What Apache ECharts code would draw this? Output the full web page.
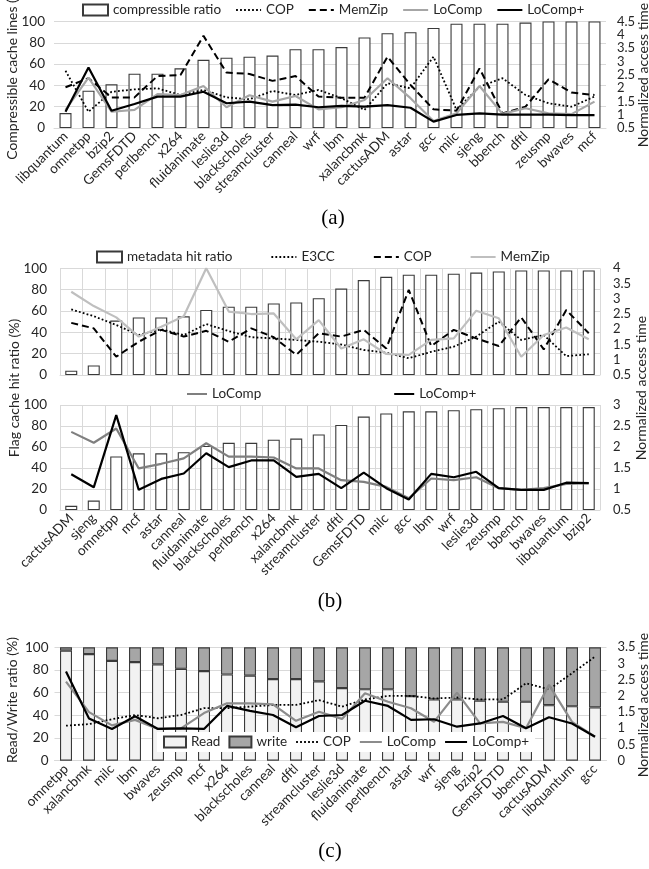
<!DOCTYPE html>
<html>
<head>
<meta charset="utf-8">
<script src="https://cdn.jsdelivr.net/npm/echarts@6/dist/echarts.min.js"></script>
<style>
html, body { margin: 0; padding: 0; background: #fff; }
#main { width: 649px; height: 869px; }
</style>
</head>
<body>
<div id="main"></div>
<script>
// (a) compressible cache lines
const catsA = ['libquantum','omnetpp','bzip2','GemsFDTD','perlbench','x264','fluidanimate','leslie3d','blackscholes','streamcluster','canneal','wrf','lbm','xalancbmk','cactusADM','astar','gcc','milc','sjeng','bbench','dftl','zeusmp','bwaves','mcf'];
const ratioA = [14,35,41,51,51,56,64,66,67,68,74,74,76,85,89,90,94,98,98,98,99,100,100,100];
const copA = [2.65,1.11,1.86,1.95,1.99,1.74,1.93,1.65,1.58,1.89,1.74,1.93,1.62,1.18,2.18,1.99,3.18,1.18,2.05,2.37,1.74,1.43,1.3,1.68];
const memzipA = [2.03,2.37,1.65,1.65,2.45,2.49,3.96,2.58,2.53,2.27,2.45,1.68,1.64,1.64,3.18,2.12,1.2,1.15,2.74,1.05,1.3,2.33,1.83,1.74];
const locompA = [1.18,2.39,1.11,1.18,1.77,1.74,2.08,1.28,1.73,1.49,1.7,1.2,1.28,1.55,2.37,1.62,0.76,1.05,2.08,1.03,1.24,1.05,1.02,1.49];
const locompPA = [1.11,2.77,1.15,1.4,1.68,1.68,1.86,1.43,1.49,1.36,1.38,1.28,1.33,1.3,1.36,1.26,0.74,0.99,1.05,1.0,1.0,1.0,0.98,0.98];

// (b) flag cache hit ratio
const catsB = ['cactusADM','sjeng','omnetpp','mcf','astar','canneal','fluidanimate','blackscholes','perlbench','x264','xalancbmk','streamcluster','dftl','GemsFDTD','milc','gcc','lbm','wrf','leslie3d','zeusmp','bbench','bwaves','libquantum','bzip2'];
const hitB = [4,9,51,54,54,55,61,64,64,67,68,72,81,89,92,94,94,95,96,97,98,98,98,98];
const e3ccB = [2.65,2.43,2.14,1.81,2.0,1.81,2.17,1.94,1.74,1.7,1.65,1.59,1.5,1.32,1.23,1.05,1.26,1.43,1.76,2.25,1.65,1.81,1.12,1.18];
const copB = [2.21,2.03,1.1,1.59,1.98,1.76,1.95,1.59,2.03,1.74,1.16,1.87,1.76,1.98,1.37,3.29,1.45,1.98,1.7,1.45,2.39,1.34,2.63,1.87];
const memzipB = [3.23,2.76,2.39,1.76,2.08,2.43,4.0,2.58,2.5,2.52,1.67,2.3,1.37,1.67,1.19,1.16,1.65,1.7,2.61,2.36,1.1,1.81,2.06,1.67];
const locompB = [2.36,2.1,2.44,1.49,1.6,1.73,2.09,1.77,1.77,1.75,1.49,1.49,1.21,1.17,1.05,0.78,1.25,1.21,1.28,1.02,0.98,1.02,1.12,1.14];
const locompPB = [1.35,1.04,2.76,0.98,1.24,1.37,1.85,1.52,1.68,1.68,1.29,1.36,1.02,1.39,1.02,0.75,1.36,1.28,1.41,1.02,0.98,0.98,1.15,1.14];

// (c) read / write ratio
const catsC = ['omnetpp','xalancbmk','milc','lbm','bwaves','zeusmp','mcf','x264','blackscholes','canneal','dftl','streamcluster','leslie3d','fluidanimate','perlbench','astar','wrf','sjeng','bzip2','GemsFDTD','bbench','cactusADM','libquantum','gcc'];
const readC = [97,94,88,87,85,81,79,76,75,72,72,70,64,63,63,57,54,54,53,52,52,49,48,47];
const writeC = [3,6,12,13,15,19,21,24,25,28,28,30,36,37,37,43,46,46,47,48,48,51,52,53];
const copC = [1.08,1.13,1.28,1.41,1.31,1.41,1.62,1.62,1.67,1.72,1.72,1.87,1.67,1.89,2.0,2.0,1.92,1.95,1.89,1.89,2.39,2.2,2.7,3.21];
const locompC = [2.44,1.5,1.09,1.26,0.98,1.0,1.47,1.77,1.77,1.74,1.23,1.51,1.29,2.08,1.82,1.62,1.2,2.1,1.15,1.2,1.0,2.34,1.2,0.74];
const locompPC = [2.75,1.3,0.98,1.37,0.98,1.0,0.98,1.69,1.54,1.41,1.03,1.38,1.41,1.85,1.69,1.26,1.28,1.05,1.15,1.38,1.0,1.34,1.15,0.74];

const FONT = 'Lato';
const TXT = '#262626';
const GRIDC = '#d9d9d9';
const DOT = [1.8, 2.2];
const DASH = [7, 4];
const FS = 13.5;

function catAxis(grid, data, showLabel, vSplit) {
  return {
    type: 'category', gridIndex: grid, data: data,
    axisTick: { show: false },
    axisLine: { lineStyle: { color: GRIDC } },
    axisLabel: { show: showLabel, rotate: 45, interval: 0, fontSize: FS, color: TXT, fontFamily: FONT, margin: 6 },
    splitLine: { show: vSplit, lineStyle: { color: GRIDC } }
  };
}

function valAxis(grid, min, max, interval, right, split, margin) {
  return {
    type: 'value', gridIndex: grid, position: right ? 'right' : 'left',
    min: min, max: max, interval: interval,
    axisLine: { show: false }, axisTick: { show: false },
    splitLine: { show: split, lineStyle: { color: GRIDC } },
    axisLabel: {
      fontSize: right ? 13 : FS, color: TXT, fontFamily: FONT, margin: margin,
      showMinLabel: true, showMaxLabel: true, hideOverlap: false
    }
  };
}

function line(name, x, y, data, color, width, type) {
  return {
    name: name, type: 'line', xAxisIndex: x, yAxisIndex: y, data: data,
    symbol: 'none', z: 3,
    lineStyle: { color: color, width: width, type: type },
    itemStyle: { color: color }
  };
}

function bar(name, x, y, data, fill, stack) {
  return {
    name: name, type: 'bar', xAxisIndex: x, yAxisIndex: y, data: data,
    barWidth: 12, stack: stack,
    itemStyle: { color: fill, borderColor: '#3a3a3a', borderWidth: 1.1 }
  };
}

// legend entry for a line: hide the symbol, keep the line
const lg = name => ({ name: name, itemStyle: { opacity: 0 } });
const box = name => ({ name: name, icon: 'rect' });
const legendText = { fontSize: 13.5, color: TXT, fontFamily: FONT };
const stripName = n => n.split('#')[0];

function vText(x, y, text) {
  return {
    type: 'text', x: x, y: y, rotation: Math.PI / 2,
    style: { text: text, fontSize: 14, fontFamily: FONT, fill: TXT, textAlign: 'center', textVerticalAlign: 'middle' }
  };
}
function capText(x, y, text) {
  return {
    type: 'text', x: x, y: y,
    style: { text: text, fontSize: 21, fontFamily: 'Liberation Serif', fill: '#000', textAlign: 'center', textVerticalAlign: 'middle' }
  };
}

const chart = echarts.init(document.getElementById('main'));
chart.setOption({
  animation: false,
  backgroundColor: '#fff',
  grid: [
    { left: 54, top: 21.5, width: 552, height: 106.5 },
    { left: 60, top: 268.3, width: 540, height: 106.7 },
    { left: 60, top: 405, width: 540, height: 105 },
    { left: 54.5, top: 647.3, width: 552, height: 113.4 }
  ],
  xAxis: [
    catAxis(0, catsA, true, false),
    catAxis(1, catsB, false, true),
    catAxis(2, catsB, true, true),
    catAxis(3, catsC, true, false)
  ],
  yAxis: [
    valAxis(0, 0, 100, 20, false, true, 9),
    valAxis(0, 0.5, 4.5, 0.5, true, false, 11),
    valAxis(1, 0, 100, 20, false, true, 13),
    valAxis(1, 0.5, 4, 0.5, true, false, 13),
    valAxis(2, 0, 100, 20, false, true, 13),
    valAxis(2, 0.5, 3, 0.5, true, false, 13),
    valAxis(3, 0, 100, 20, false, true, 6),
    valAxis(3, 0, 3.5, 0.5, true, false, 11)
  ],
  legend: [
    {
      left: 82, top: 3, padding: 0, itemGap: 14, itemWidth: 25, itemHeight: 11,
      textStyle: legendText, formatter: stripName,
      data: [box('compressible ratio'), lg('COP#a'), lg('MemZip#a'), lg('LoComp#a'), lg('LoComp+#a')]
    },
    {
      left: 96, top: 250, padding: 0, itemGap: 38, itemWidth: 25, itemHeight: 11,
      textStyle: legendText, formatter: stripName,
      data: [box('metadata hit ratio'), lg('E3CC#b'), lg('COP#b'), lg('MemZip#b')]
    },
    {
      left: 186, top: 387, padding: 0, itemGap: 132, itemWidth: 20, itemHeight: 11,
      textStyle: legendText, formatter: stripName,
      data: [lg('LoComp#b'), lg('LoComp+#b')]
    },
    {
      left: 157, top: 732, padding: [3, 6], itemGap: 8, itemWidth: 22, itemHeight: 11,
      backgroundColor: '#fff',
      textStyle: legendText, formatter: stripName,
      data: [box('Read'), box('write'), lg('COP#c'), lg('LoComp#c'), lg('LoComp+#c')]
    }
  ],
  graphic: [
    vText(12, 72, 'Compressible cache lines (%)'),
    vText(643, 75, 'Normalized access time'),
    vText(14, 388, 'Flag cache hit ratio (%)'),
    vText(641, 388, 'Normalized access time'),
    vText(12, 700, 'Read/Write ratio (%)'),
    vText(643, 705, 'Normalized access time'),
    capText(333, 218, '(a)'),
    capText(330, 601, '(b)'),
    capText(330, 851, '(c)')
  ],
  series: [
    bar('compressible ratio', 0, 0, ratioA, '#fff'),
    line('COP#a', 0, 1, copA, '#000', 1.8, DOT),
    line('MemZip#a', 0, 1, memzipA, '#000', 2, DASH),
    line('LoComp#a', 0, 1, locompA, '#a6a6a6', 2.2, 'solid'),
    line('LoComp+#a', 0, 1, locompPA, '#000', 2.2, 'solid'),

    bar('metadata hit ratio', 1, 2, hitB, '#fff'),
    line('E3CC#b', 1, 3, e3ccB, '#000', 1.8, DOT),
    line('COP#b', 1, 3, copB, '#000', 2, DASH),
    line('MemZip#b', 1, 3, memzipB, '#bfbfbf', 2.2, 'solid'),

    bar('metadata hit ratio#2', 2, 4, hitB, '#fff'),
    line('LoComp#b', 2, 5, locompB, '#7f7f7f', 2.2, 'solid'),
    line('LoComp+#b', 2, 5, locompPB, '#000', 2.2, 'solid'),

    bar('Read', 3, 6, readC, '#f2f2f2', 'rw'),
    bar('write', 3, 6, writeC, '#a6a6a6', 'rw'),
    line('COP#c', 3, 7, copC, '#000', 1.8, DOT),
    line('LoComp#c', 3, 7, locompC, '#8c8c8c', 2.2, 'solid'),
    line('LoComp+#c', 3, 7, locompPC, '#000', 2.2, 'solid')
  ]
});
</script>
</body>
</html>
